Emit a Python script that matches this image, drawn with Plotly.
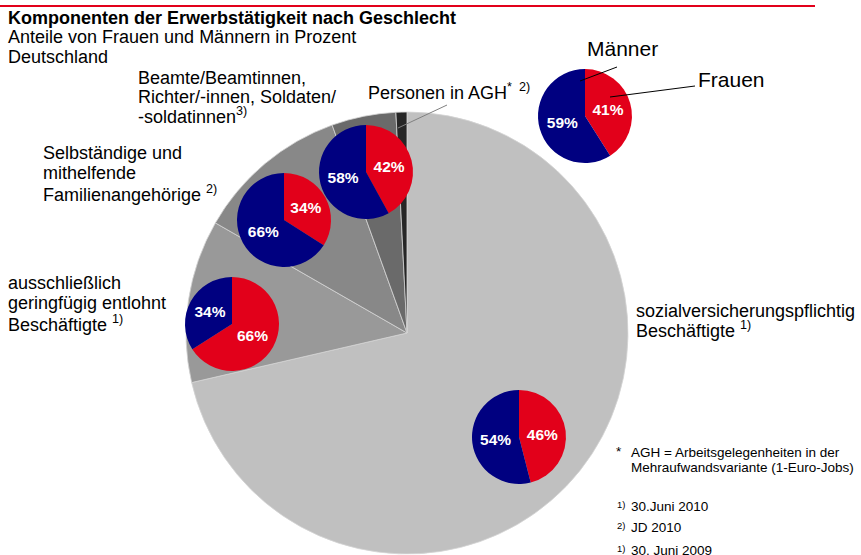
import plotly.graph_objects as go

W, H = 861, 555

# ---------------- data ----------------
big_labels = [
    "sozialversicherungspflichtig Beschäftigte",
    "ausschließlich geringfügig entlohnt Beschäftigte",
    "Selbständige und mithelfende Familienangehörige",
    "Beamte/Beamtinnen, Richter/-innen, Soldaten/-soldatinnen",
    "Personen in AGH",
]
big_values = [71.4, 11.9, 11.2, 4.7, 0.8]
big_colors = ["#c0c0c0", "#999999", "#888888", "#6a6a6a", "#262626"]

sex_labels = ["Frauen", "Männer"]
sex_colors = ["#e2001a", "#000080"]
groups = ["Legende", "Beamte", "Selbständige", "geringfügig", "sozialversicherungspflichtig"]
frauen = [41, 42, 34, 66, 46]
maenner = [59, 58, 66, 34, 54]

# ---------------- layout helpers ----------------
FONT = "Arial, Liberation Sans, sans-serif"


def px(x):
    return x / W


def py(y):
    return 1 - y / H


def dom(cx, cy, r):
    return dict(x=[(cx - r) / W, (cx + r) / W], y=[1 - (cy + r) / H, 1 - (cy - r) / H])


fig = go.Figure()

fig.add_trace(go.Pie(
    labels=big_labels, values=big_values, sort=False, direction="clockwise",
    rotation=0, textinfo="none", hoverinfo="skip", showlegend=False,
    marker=dict(colors=big_colors, line=dict(color="#d4d4d4", width=0.8)),
    domain=dom(407, 333, 221),
))

small_centers = {
    "Legende": (585, 116),
    "Beamte": (366, 172),
    "Selbständige": (284, 220),
    "geringfügig": (232, 324),
    "sozialversicherungspflichtig": (519, 437),
}
for g, f, m in zip(groups, frauen, maenner):
    cx, cy = small_centers[g]
    fig.add_trace(go.Pie(
        labels=sex_labels, values=[f, m], sort=False, direction="clockwise",
        rotation=0, textinfo="text", text=[f"<b>{f}%</b>", f"<b>{m}%</b>"],
        textposition="inside", insidetextorientation="horizontal",
        insidetextfont=dict(color="white", size=15.5, family=FONT),
        hoverinfo="skip", showlegend=False,
        marker=dict(colors=sex_colors, line=dict(width=0)),
        domain=dom(cx, cy, 47),
    ))

ann = []


def text(x, y, s, size=18, bold=False, color="#000000"):
    if bold:
        s = f"<b>{s}</b>"
    ann.append(dict(x=px(x - 2), y=py(y), xref="paper", yref="paper", text=s,
                    showarrow=False, xanchor="left", yanchor="middle",
                    font=dict(family=FONT, size=size, color=color)))


text(8, 18, "Komponenten der Erwerbstätigkeit nach Geschlecht", 18, bold=True)
text(8, 37, "Anteile von Frauen und Männern in Prozent", 18)
text(8, 57, "Deutschland", 18)

text(138, 78, "Beamte/Beamtinnen,")
text(138, 97, "Richter/-innen, Soldaten/")
text(138, 116, "-soldatinnen<sup>3)</sup>")

text(368, 92, "Personen in AGH<sup>*  2)</sup>")

text(587, 48, "Männer", 21)
text(698, 80, "Frauen", 21)

text(43, 153, "Selbständige und")
text(43, 173, "mithelfende")
text(43, 193, "Familienangehörige <sup>2)</sup>")

text(8, 283, "ausschließlich")
text(8, 303, "geringfügig entlohnt")
text(8, 323, "Beschäftigte <sup>1)</sup>")

text(636, 311, "sozialversicherungspflichtig")
text(636, 329, "Beschäftigte <sup>1)</sup>")

text(616, 451, "*", 13.5)
text(631, 452, "AGH = Arbeitsgelegenheiten in der", 13.5)
text(631, 467, "Mehraufwandsvariante (1-Euro-Jobs)", 13.5)
text(617, 504, "<sup>1)</sup>", 13.5)
text(631, 506, "30.Juni 2010", 13.5)
text(617, 525, "<sup>2)</sup>", 13.5)
text(631, 527, "JD 2010", 13.5)
text(617, 548, "<sup>1)</sup>", 13.5)
text(631, 550, "30. Juni 2009", 13.5)

shapes = [
    dict(type="line", xref="paper", yref="paper", x0=0, x1=px(815), y0=py(6), y1=py(6),
         line=dict(color="#e2001a", width=2)),
    dict(type="line", xref="paper", yref="paper", x0=px(447), x1=px(398), y0=py(105), y1=py(128),
         line=dict(color="#808080", width=1)),
    dict(type="line", xref="paper", yref="paper", x0=px(617), x1=px(580), y0=py(67), y1=py(81),
         line=dict(color="#000000", width=1)),
    dict(type="line", xref="paper", yref="paper", x0=px(695), x1=px(610), y0=py(86), y1=py(97),
         line=dict(color="#000000", width=1)),
]

fig.update_layout(
    width=W, height=H, margin=dict(l=0, r=0, t=0, b=0),
    paper_bgcolor="white", plot_bgcolor="white",
    annotations=ann, shapes=shapes, showlegend=False,
)

fig.write_html("out.html", config={"displayModeBar": False},
               post_script="document.body.style.margin='0px';")
